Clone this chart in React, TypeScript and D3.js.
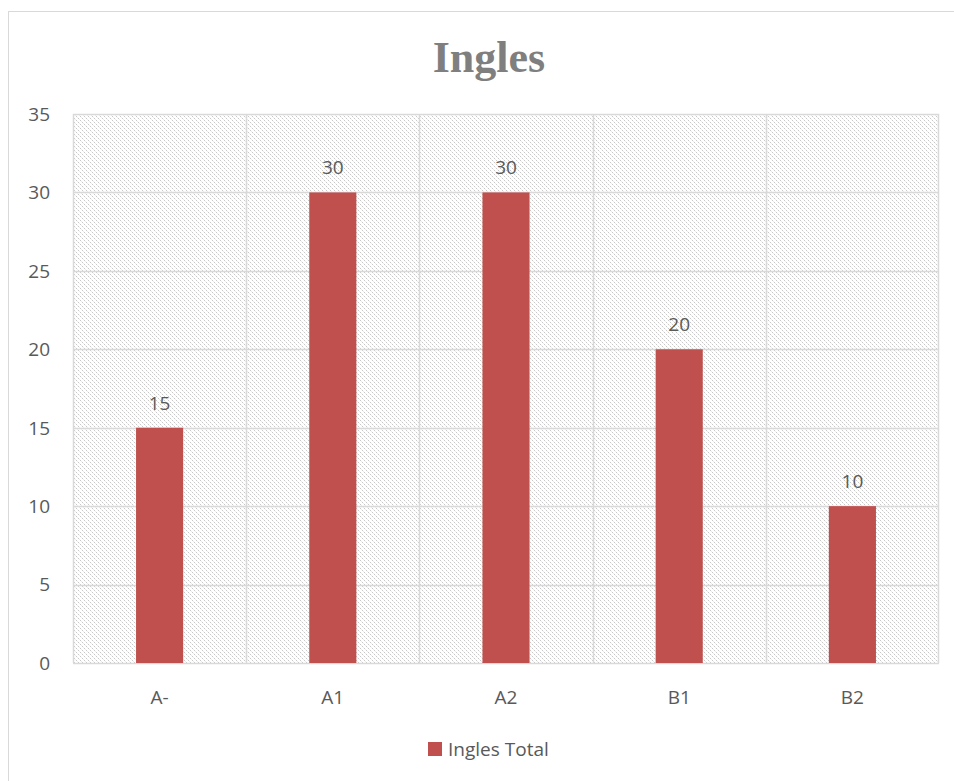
import React from "react";
import * as d3 from "d3";

const categories = ["A-", "A1", "A2", "B1", "B2"];
const values = [15, 30, 30, 20, 10];
const yTicks = [0, 5, 10, 15, 20, 25, 30, 35];
const title = "Ingles";
const seriesName = "Ingles Total";

export default function App() {
  const W = 954, H = 781;
  const left = 73, right = 939, top = 114, bottom = 663;
  const x = d3.scaleBand<string>().domain(categories).range([left, right]).paddingInner(0).paddingOuter(0);
  const y = d3.scaleLinear().domain([0, 35]).range([bottom, top]);
  const barW = x.bandwidth() * 0.272;
  const font = "'Open Sans', 'Liberation Sans', sans-serif";
  const grid = "#d9d9d9";
  const txt = "#595959";
  return (
    <svg width={W} height={H} style={{ position: "absolute", left: 0, top: 0 }}>
      <defs>
        <pattern id="hatch" patternUnits="userSpaceOnUse" width={4} height={4}>
          <rect width={4} height={4} fill="#ffffff" />
          <rect x={0} y={0} width={1} height={1} fill="#c8c8c8" />
          <rect x={1} y={1} width={1} height={1} fill="#ececec" />
          <rect x={2} y={2} width={1} height={1} fill="#c8c8c8" />
          <rect x={3} y={3} width={1} height={1} fill="#ececec" />
        </pattern>
      </defs>
      <rect x={0} y={0} width={W} height={H} fill="#fff" />
      <rect x={8.5} y={11.5} width={980} height={800} fill="#fff" stroke={grid} strokeWidth={1} />
      <text x={489} y={72} textAnchor="middle" fontFamily="'Liberation Serif', serif" fontWeight="bold" fontSize={44} fill="#7f7f7f">{title}</text>
      <rect x={left} y={top} width={right - left} height={bottom - top} fill="url(#hatch)" shapeRendering="crispEdges" />
      {yTicks.map((t) => (
        <line key={"h" + t} x1={left} x2={right} y1={Math.round(y(t)) + 0.5} y2={Math.round(y(t)) + 0.5} stroke={grid} strokeWidth={1.5} />
      ))}
      {categories.map((c) => (
        <line key={"v" + c} x1={Math.round(x(c)!) + 0.5} x2={Math.round(x(c)!) + 0.5} y1={top} y2={bottom} stroke={grid} strokeWidth={1.5} />
      ))}
      <line x1={right - 0.5} x2={right - 0.5} y1={top} y2={bottom} stroke={grid} strokeWidth={1.5} />
      {yTicks.map((t) => (
        <text key={"yl" + t} x={50} y={y(t)} dy="0.36em" textAnchor="end" fontFamily={font} fontSize={19} fill={txt}>{t}</text>
      ))}
      {categories.map((c, i) => {
        const cx = x(c)! + x.bandwidth() / 2;
        return (
          <g key={"b" + c}>
            <rect x={cx - barW / 2} y={y(values[i])} width={barW} height={bottom - y(values[i])} fill="#c0504d" />
            <text x={cx} y={y(values[i]) - 18} textAnchor="middle" fontFamily={font} fontSize={19} fill={txt}>{values[i]}</text>
            <text x={cx} y={704} textAnchor="middle" fontFamily={font} fontSize={19} fill={txt}>{c}</text>
          </g>
        );
      })}
      <rect x={428} y={742} width={14} height={14} fill="#c0504d" />
      <text x={448} y={756} fontFamily={font} fontSize={19} fill={txt}>{seriesName}</text>
    </svg>
  );
}
